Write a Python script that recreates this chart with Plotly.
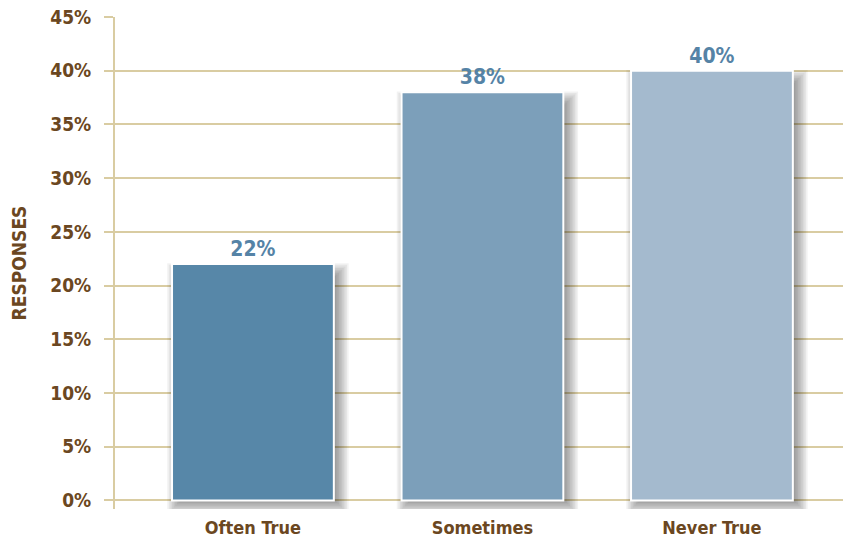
import plotly.graph_objects as go

categories = ["Often True", "Sometimes", "Never True"]
values = [22, 38, 40]
bar_colors = ["#5787A8", "#7C9FBA", "#A4BACE"]
y_ticks = [0, 5, 10, 15, 20, 25, 30, 35, 40, 45]

FONT = "DejaVu Sans Condensed, Liberation Sans Narrow, sans-serif"
BROWN = "#6B4721"
GRID = "#D9CCA2"
LABEL_BLUE = "#5583A6"

W, H = 843, 541
ml, mr, mt, mb = 115, 0, 17, 32
x_range = [-0.601, 2.571]
y_range = [-0.8, 45]
px_x = (W - ml - mr) / (x_range[1] - x_range[0])
px_y = (H - mt - mb) / (y_range[1] - y_range[0])
bar_w = 0.705

fig = go.Figure()
fig.add_trace(go.Bar(
    x=categories, y=values, width=bar_w,
    marker=dict(color=bar_colors, line=dict(color="white", width=2)),
    text=[f"<b>{v}%</b>" for v in values], textposition="outside",
    textfont=dict(family=FONT, size=21, color=LABEL_BLUE),
    cliponaxis=False, hoverinfo="skip",
))

# soft drop shadows behind the bars
shapes = []
dx, dy = 5, 4
for i, v in enumerate(values):
    left, right = i - bar_w / 2, i + bar_w / 2
    for k in range(9):
        s = k * 1.6 - 3
        shapes.append(dict(
            type="rect", layer="between", xref="x", yref="y",
            x0=left + (dx - s) / px_x, x1=right + (dx + s) / px_x,
            y0=0 - (dy + s) / px_y, y1=v - (9 - s) / px_y,
            fillcolor="rgba(0,0,0,0.05)", line=dict(width=0),
        ))

fig.update_layout(
    width=W, height=H,
    margin=dict(l=ml, r=mr, t=mt, b=mb),
    paper_bgcolor="white", plot_bgcolor="white",
    showlegend=False, shapes=shapes,
    xaxis=dict(
        type="category", range=x_range, showgrid=False, zeroline=False,
        showline=False, ticks="",
        tickvals=categories, ticktext=[f"<b>{c}</b>" for c in categories],
        tickfont=dict(family=FONT, size=18, color=BROWN),
        ticklabelstandoff=6,
    ),
    yaxis=dict(
        range=y_range, tickvals=y_ticks, ticktext=[f"<b>{t}%</b>" for t in y_ticks],
        showgrid=True, gridcolor=GRID, gridwidth=2,
        zeroline=True, zerolinecolor=GRID, zerolinewidth=2,
        showline=True, linecolor=GRID, linewidth=2,
        ticks="outside", ticklen=9, tickwidth=2, tickcolor=GRID,
        tickfont=dict(family=FONT, size=19, color=BROWN),
        ticklabelstandoff=9,
        title=dict(text="<b>RESPONSES</b>", font=dict(family=FONT, size=19, color=BROWN), standoff=19),
    ),
)

fig.write_html("out.html")
